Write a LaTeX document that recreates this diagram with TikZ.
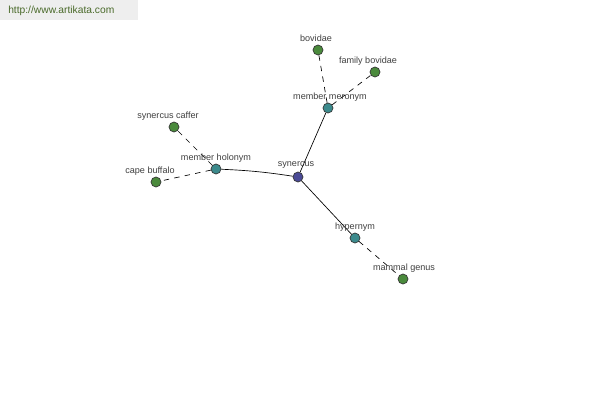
\documentclass[tikz,border=0pt]{standalone}
\usepackage{fontspec}
\setmainfont{Liberation Sans}
\definecolor{leafc}{HTML}{4A8A3C}
\definecolor{midc}{HTML}{3C8A8C}
\definecolor{rootc}{HTML}{4A4A96}
\definecolor{hdrbg}{HTML}{EEEEEE}
\definecolor{hdrtx}{HTML}{4A6A2A}
\begin{document}
\begin{tikzpicture}[x=0.75pt,y=-0.75pt,
  gnode/.style={circle,draw=black!80,line width=0.5pt,minimum size=7.5pt,inner sep=0pt},
  leaf/.style={gnode,fill=leafc},
  mid/.style={gnode,fill=midc},
  root/.style={gnode,fill=rootc},
  lbl/.style={font=\fontsize{6.8}{8}\selectfont,text=black!75,inner sep=0pt},
  solidedge/.style={draw=black,line width=0.5pt},
  dashedge/.style={draw=black,line width=0.5pt,dash pattern=on 4pt off 4pt}]
\useasboundingbox (0,0) rectangle (600,400);
\fill[white] (0,0) rectangle (600,400);
\fill[hdrbg] (0,0) rectangle (138,20);
\node[font=\fontsize{7.7}{9}\selectfont,text=hdrtx,anchor=west,inner sep=0pt] (hdr) at (8,11) {http://www.artikata.com};

\node[root] (syn) at (298,177) {};
\node[mid] (mer) at (328,108) {};
\node[leaf] (bov) at (318,50) {};
\node[leaf] (fbov) at (375,72) {};
\node[mid] (hol) at (216,169) {};
\node[leaf] (caf) at (174,127) {};
\node[leaf] (cape) at (156,182) {};
\node[mid] (hyp) at (355,238) {};
\node[leaf] (mam) at (403,279) {};

\draw[solidedge] (syn) -- (mer);
\draw[solidedge] (syn) to[bend right=3] (hol);
\draw[solidedge] (syn) -- (hyp);
\draw[dashedge] (mer) -- (bov);
\draw[dashedge] (mer) -- (fbov);
\draw[dashedge] (hol) -- (caf);
\draw[dashedge] (hol) -- (cape);
\draw[dashedge] (hyp) -- (mam);

\node[lbl] (lsyn) at (296,165) {synercus};
\node[lbl] (lmer) at (330,97) {member meronym};
\node[lbl] (lbov) at (316,38) {bovidae};
\node[lbl] (lfbov) at (368,61) {family bovidae};
\node[lbl] (lhol) at (216,158) {member holonym};
\node[lbl] (lcaf) at (168,116) {synercus caffer};
\node[lbl] (lcape) at (150,171) {cape buffalo};
\node[lbl] (lhyp) at (355,227) {hypernym};
\node[lbl] (lmam) at (404,268) {mammal genus};
\end{tikzpicture}
\end{document}
